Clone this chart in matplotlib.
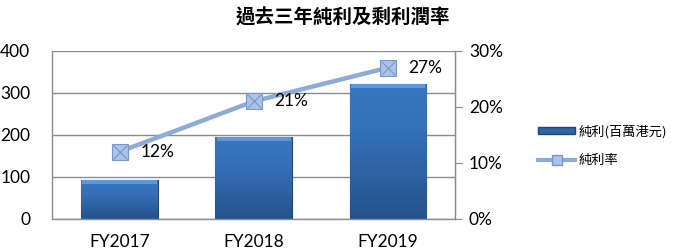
import numpy as np
import matplotlib
matplotlib.use("Agg")
import matplotlib.pyplot as plt
from matplotlib.lines import Line2D
from matplotlib.patches import Patch

plt.rcParams['font.family'] = ['Lato', 'Noto Sans CJK TC', 'DejaVu Sans']

# data
years = ['FY2017', 'FY2018', 'FY2019']
net_profit = [93, 195, 321]          # 純利(百萬港元)
profit_rate = [0.12, 0.21, 0.27]     # 純利率
left_ticks = [0, 100, 200, 300, 400]
right_ticks = [0, 0.1, 0.2, 0.3]

title = '過去三年純利及剩利潤率'
bar_label = '純利(百萬港元)'
line_label = '純利率'

grid_color = '#8c8c8c'
bar_color = '#2f65a6'
line_color = '#8eaad6'

fig = plt.figure(figsize=(6.79, 2.52), dpi=100)
ax = fig.add_axes([0.0773, 0.131, 0.5927, 0.667])

x = np.arange(len(years))
bars = ax.bar(x, net_profit, width=0.57, color=bar_color, edgecolor='#1f4878',
              linewidth=0.8, zorder=2)

# vertical gradient inside each bar to imitate the bevelled look
grad = np.linspace(0, 1, 100).reshape(-1, 1)
cmap = matplotlib.colors.LinearSegmentedColormap.from_list(
    'bevel', ['#25528c', '#2d62a3', '#3570b8', '#3a76bf'])
for b in bars:
    x0, w, h = b.get_x(), b.get_width(), b.get_height()
    im = ax.imshow(grad, extent=[x0, x0 + w, 0, h], origin='lower', cmap=cmap,
                   aspect='auto', zorder=2.1)
    im.set_clip_path(b)
    # thin light strip at the top of the bar
    ax.bar(x0 + w / 2, 9, bottom=h - 9, width=w * 0.97,
           color='#5f97da', linewidth=0, zorder=2.2)

ax.set_xlim(-0.5, len(years) - 0.5)
ax.set_ylim(0, 400)
ax.set_yticks(left_ticks)
ax.set_xticks(x)
ax.set_xticklabels(years, fontsize=12.5)
ax.tick_params(axis='y', length=0, pad=16, labelsize=12.5)
ax.tick_params(axis='x', length=0, pad=11)
ax.yaxis.grid(True, color=grid_color, linewidth=1, zorder=0)
ax.set_axisbelow(True)
for s in ['top']:
    ax.spines[s].set_visible(False)
for s in ['left', 'right', 'bottom']:
    ax.spines[s].set_color(grid_color)
    ax.spines[s].set_linewidth(1)

ax2 = ax.twinx()
ax2.plot(x, profit_rate, color=line_color, linewidth=3.2, zorder=3)
ax2.plot(x, profit_rate, linestyle='none', marker='s', markersize=11.5,
         markerfacecolor='#a9c3ea', markeredgecolor='#7b98c6', markeredgewidth=0.8,
         zorder=4)
ax2.plot(x, profit_rate, linestyle='none', marker='x', markersize=10.5,
         markeredgecolor='#7f97bd', markeredgewidth=0.8, zorder=5)
for xi, v in zip(x, profit_rate):
    ax2.annotate(f'{v * 100:.0f}%', (xi, v), xytext=(15, 0),
                 textcoords='offset points', va='center', ha='left', fontsize=12.5)

ax2.set_ylim(0, 0.3)
ax2.set_yticks(right_ticks)
ax2.set_yticklabels([f'{t * 100:.0f}%' for t in right_ticks])
ax2.tick_params(axis='y', length=5, color=grid_color, pad=5, labelsize=12.5)
for s in ['top', 'left', 'bottom']:
    ax2.spines[s].set_visible(False)
ax2.spines['right'].set_color(grid_color)

fig.text(0.505, 0.93, title, ha='center', va='center', fontsize=14,
         fontweight='bold', family=['Noto Sans CJK TC', 'DejaVu Sans'])

handles = [Patch(facecolor=bar_color, edgecolor='#1f4878'),
           Line2D([0], [0], color=line_color, linewidth=3, marker='s',
                  markersize=7, markerfacecolor='#a9c3ea', markeredgecolor='#7b98c6')]
leg = fig.legend(handles, [bar_label, line_label], loc='center left',
                 bbox_to_anchor=(0.775, 0.42), frameon=False, handlelength=2.8,
                 handleheight=0.45, handletextpad=0.3, labelspacing=1.2,
                 prop={'family': ['Noto Sans CJK TC', 'DejaVu Sans'], 'size': 9.5})

fig.savefig('out.png', dpi=100)
